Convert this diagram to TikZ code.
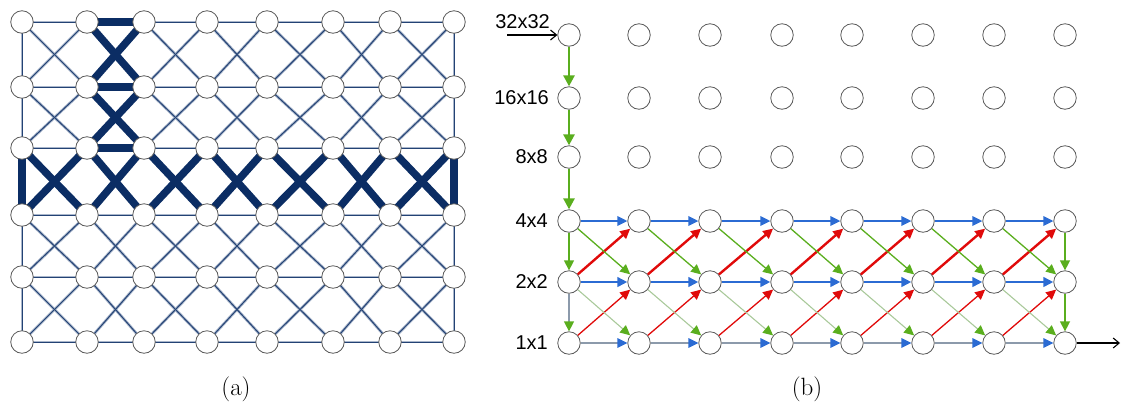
\documentclass[tikz,border=0pt]{standalone}
\usepackage{fontspec}
\newfontfamily\labelfont{Liberation Sans}
\usetikzlibrary{arrows.meta}
\definecolor{navy}{HTML}{0B2D64}
\definecolor{halo}{HTML}{A9B6CB}
\definecolor{netblue}{HTML}{2B6BD3}
\definecolor{netred}{HTML}{E00A0A}
\definecolor{netgreen}{HTML}{5AAE1E}
\definecolor{palegreen}{HTML}{A9C99A}
\definecolor{netgray}{HTML}{8C9AAB}
\pgfdeclarelayer{edges}
\pgfsetlayers{edges,main}
\begin{document}
\begin{tikzpicture}[x=1pt,y=-1pt,
  cell/.style={circle,draw=black!65,fill=white,line width=0.8pt,minimum size=22.5pt,inner sep=0pt},
  meshhalo/.style={draw=halo,line width=2.8pt},
  meshcore/.style={draw=navy!90,line width=1pt},
  pathedge/.style={draw=navy,line width=7.5pt},
  lbl/.style={anchor=east,inner sep=0pt,font=\labelfont\fontsize{20}{24}\selectfont},
  captext/.style={inner sep=0pt,font=\fontsize{25}{30}\selectfont},
  gdown/.style={netgreen,line width=2.6pt,-{Triangle[length=11pt,width=11pt]}},
  gdownthin/.style={netgreen,line width=1.4pt,-{Triangle[length=10pt,width=10pt]}},
  gdowngray/.style={netgray,line width=1.4pt,-{Triangle[length=10pt,width=10pt,color=netgreen]}},
  hblue/.style={netblue,line width=2pt,-{Triangle[length=10pt,width=9.5pt]}},
  hbluethick/.style={netblue,line width=2.6pt,-{Triangle[length=10pt,width=9.5pt]}},
  hgray/.style={netgray,line width=1.5pt,-{Triangle[length=10pt,width=9.5pt,color=netblue]}},
  upred/.style={netred,line width=2.4pt,-{Triangle[length=10pt,width=9.5pt]}},
  upredthin/.style={netred,line width=1.3pt,-{Triangle[length=10pt,width=9.5pt]}},
  dgreen/.style={netgreen,line width=1.3pt,-{Triangle[length=10pt,width=9.5pt]}},
  dpale/.style={palegreen,line width=1.1pt,-{Triangle[length=10pt,width=9.5pt,color=netgreen]}},
  io/.style={black,line width=1.1pt,-{Straight Barb[length=6pt,width=10pt]}}]
\useasboundingbox (0,0) rectangle (1121,408);

% ---------- (a) mesh of cells ----------
\foreach \y [count=\r from 0] in {22,87,148,215,277,342}
  \foreach \x [count=\c from 0] in {22,87,144,207,267,333,390,454}
    \node[cell] (a-\r-\c) at (\x,\y) {};

\begin{pgfonlayer}{edges}
  % thin links: light underlay first, dark core on top
  \foreach \st in {1,2} {
    \foreach \r in {0,...,5} {
      \foreach \c in {0,...,6} {
        \pgfmathtruncatemacro{\d}{\c+1}
        \ifnum\st=1
          \draw[meshhalo] (a-\r-\c.center) -- (a-\r-\d.center);
        \else
          \draw[meshcore] (a-\r-\c.center) -- (a-\r-\d.center);
        \fi
      }
    }
    \foreach \r in {0,...,4} {
      \pgfmathtruncatemacro{\s}{\r+1}
      \ifnum\st=1
        \draw[meshhalo] (a-\r-0.center) -- (a-\s-0.center);
        \draw[meshhalo] (a-\r-7.center) -- (a-\s-7.center);
      \else
        \draw[meshcore] (a-\r-0.center) -- (a-\s-0.center);
        \draw[meshcore] (a-\r-7.center) -- (a-\s-7.center);
      \fi
      \foreach \c in {0,...,6} {
        \pgfmathtruncatemacro{\d}{\c+1}
        \ifnum\st=1
          \draw[meshhalo] (a-\r-\c.center) -- (a-\s-\d.center);
          \draw[meshhalo] (a-\r-\d.center) -- (a-\s-\c.center);
        \else
          \draw[meshcore] (a-\r-\c.center) -- (a-\s-\d.center);
          \draw[meshcore] (a-\r-\d.center) -- (a-\s-\c.center);
        \fi
      }
    }
  }
  % highlighted links
  \foreach \r in {0,1,2}
    \draw[pathedge] (a-\r-1.center) -- (a-\r-2.center);
  \foreach \r [evaluate=\r as \s using int(\r+1)] in {0,1} {
    \draw[pathedge] (a-\r-1.center) -- (a-\s-2.center);
    \draw[pathedge] (a-\r-2.center) -- (a-\s-1.center);
  }
  \foreach \c [evaluate=\c as \d using int(\c+1)] in {0,...,6} {
    \draw[pathedge] (a-2-\c.center) -- (a-3-\d.center);
    \draw[pathedge] (a-2-\d.center) -- (a-3-\c.center);
  }
  \draw[pathedge] (a-2-0.center) -- (a-3-0.center);
  \draw[pathedge] (a-2-7.center) -- (a-3-7.center);
\end{pgfonlayer}

\node[captext] (capa) at (236,389) {(a)};

% ---------- (b) scale / layer grid ----------
\foreach \y [count=\r from 0] in {35,98,157,221,282,343}
  \foreach \x [count=\c from 0] in {569,639,710,782,852,923,994,1065}
    \node[cell] (b-\r-\c) at (\x,\y) {};

\node[lbl] (s32) at (550,22) {32x32};
\node[lbl] (s16) at (549,98) {16x16};
\node[lbl] (s8)  at (548,157) {8x8};
\node[lbl] (s4)  at (548,221) {4x4};
\node[lbl] (s2)  at (548,282) {2x2};
\node[lbl] (s1)  at (548,343) {1x1};

\coordinate (in) at (507,35);
\coordinate (out) at (1120,343);
\draw[io] (in) -- (b-0-0);
\draw[io] (b-5-7) -- (out);

% downsampling column
\draw[gdown] (b-0-0) -- (b-1-0);
\draw[gdown] (b-1-0) -- (b-2-0);
\draw[gdown] (b-2-0) -- (b-3-0);
\draw[gdownthin] (b-3-0) -- (b-4-0);
\draw[gdowngray] (b-4-0) -- (b-5-0);
\draw[gdownthin] (b-3-7) -- (b-4-7);
\draw[gdownthin] (b-4-7) -- (b-5-7);

\foreach \c [evaluate=\c as \d using int(\c+1)] in {0,...,6} {
  \draw[hblue] (b-3-\c) -- (b-3-\d);
  \draw[hbluethick] (b-4-\c) -- (b-4-\d);
  \draw[hgray] (b-5-\c) -- (b-5-\d);
  \draw[upred] (b-4-\c) -- (b-3-\d);
  \draw[upredthin] (b-5-\c) -- (b-4-\d);
  \draw[dgreen] (b-3-\c) -- (b-4-\d);
  \draw[dpale] (b-4-\c) -- (b-5-\d);
}

\node[captext] (capb) at (807,389) {(b)};
\end{tikzpicture}
\end{document}
